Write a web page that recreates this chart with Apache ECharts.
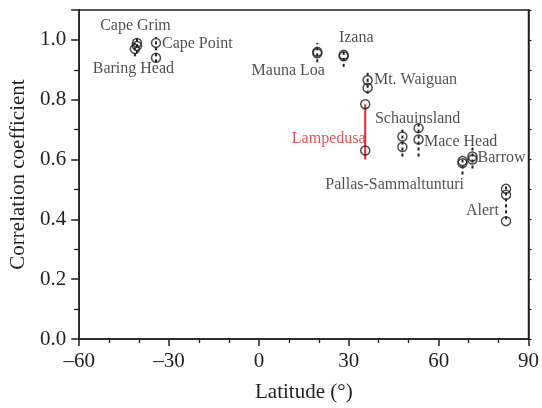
<!DOCTYPE html>
<html>
<head>
<meta charset="utf-8">
<script src="https://cdn.jsdelivr.net/npm/echarts@6/dist/echarts.min.js"></script>
<style>html,body{margin:0;padding:0;background:#fff}#c{width:542px;height:408px}</style>
</head>
<body>
<div id="c"></div>
<script>
// ---- data ----
const stations = ["Cape Grim","Baring Head","Cape Point","Mauna Loa","Izana","Mt. Waiguan","Lampedusa","Schauinsland","Mace Head","Pallas-Sammaltunturi","Barrow","Alert"];
const latitudes = [-40.7,-41.4,-34.35,19.5,28.3,36.3,35.5,47.9,53.3,67.97,71.3,82.5];
const correlations = [
  [0.99,0.98],
  [0.97],
  [0.99,0.94],
  [0.96,0.955],
  [0.95,0.945],
  [0.865,0.84],
  [0.785,0.63],
  [0.677,0.642],
  [0.705,0.667],
  [0.595,0.588],
  [0.61,0.60],
  [0.502,0.482,0.394]
];
const rangeLow  = [0.955,0.945,0.925,0.925,0.91,0.82,0.60,0.61,0.61,0.55,0.57,0.40];
const rangeHigh = [1.005,0.99,1.01,0.99,0.97,0.89,0.785,0.70,0.72,0.60,0.64,0.51];
const xTickLabels = ["–60","–30","0","30","60","90"];
const yTickLabels = ["0.0","0.2","0.4","0.6","0.8","1.0"];
// label anchors (annotation placement, in data units) and alignment
const labelAnchorX = [-41.2,-41.9,-32.35,9.8,32.5,38.4,23.3,38.75,55.1,45.3,73.0,80.1];
const labelAnchorY = [1.046,0.904,0.987,0.898,1.006,0.865,0.669,0.735,0.659,0.515,0.607,0.427];
const labelAlign = ["center","center","left","center","center","left","center","left","left","center","left","right"];
const highlight = "Lampedusa";

// ---- build ----
const RED = "#e5252a", INK = "#231f20", FONT = "Liberation Serif";
const pts = [];
stations.forEach((s,i)=>correlations[i].forEach(v=>pts.push([latitudes[i],v])));
const bars = stations.map((s,i)=>({value:[latitudes[i],rangeLow[i],rangeHigh[i]], red: s===highlight}));
const labels = stations.map((s,i)=>({
  name:s, value:[labelAnchorX[i],labelAnchorY[i]],
  label:{align:labelAlign[i], color: s===highlight?RED:INK}
}));
const fmtX = v => { const i=[-60,-30,0,30,60,90].indexOf(Math.round(v)); return i>=0?xTickLabels[i]:""; };
const fmtY = v => { const i=Math.round(v*10); return (i%2===0 && i/2<yTickLabels.length && Math.abs(v*10-i)<1e-6)?yTickLabels[i/2]:""; };

const chart = echarts.init(document.getElementById('c'), null, {renderer:'canvas'});
chart.setOption({
  animation:false,
  backgroundColor:'#fff',
  grid:{left:76,right:10.5,top:10,bottom:65.5,show:true,borderColor:INK,borderWidth:1.5,backgroundColor:'transparent'},
  xAxis:{type:'value',min:-60,max:90,interval:30,
    name:'Latitude (°)',nameLocation:'middle',nameGap:43,
    nameTextStyle:{fontFamily:FONT,fontSize:21,color:INK},
    axisLine:{onZero:false,lineStyle:{color:INK,width:1.5}},
    axisTick:{show:true,length:7,inside:false,lineStyle:{color:INK,width:1.5}},
    minorTick:{show:true,splitNumber:3,length:4,lineStyle:{color:INK,width:1.3}},
    splitLine:{show:false},
    axisLabel:{formatter:fmtX,fontFamily:FONT,fontSize:21,color:INK,margin:12}
  },
  yAxis:[{type:'value',min:0,max:1.1,interval:0.2,
    name:'Correlation coefficient',nameLocation:'middle',nameGap:48,
    nameTextStyle:{fontFamily:FONT,fontSize:21,color:INK},
    axisLine:{onZero:false,lineStyle:{color:INK,width:1.5}},
    axisTick:{show:true,length:8,lineStyle:{color:INK,width:1.5}},
    minorTick:{show:true,splitNumber:2,length:5,lineStyle:{color:INK,width:1.3}},
    splitLine:{show:false},
    axisLabel:{formatter:fmtY,fontFamily:FONT,fontSize:21,color:INK,margin:13,showMaxLabel:false}
  },{type:'value',min:0,max:1.1,interval:0.1,position:'right',
    axisLine:{show:true,onZero:false,lineStyle:{color:INK,width:1.5}},
    axisTick:{show:true,length:3,lineStyle:{color:INK,width:1.2}},
    splitLine:{show:false},axisLabel:{show:false}
  }],
  series:[
    {type:'custom',data:bars,z:2,
      renderItem:(params,api)=>{
        const p1=api.coord([api.value(0),api.value(1)]);
        const p2=api.coord([api.value(0),api.value(2)]);
        const red=bars[params.dataIndex].red;
        return {type:'line',shape:{x1:p1[0],y1:p1[1],x2:p2[0],y2:p2[1]},
          style:{stroke:red?RED:INK,lineWidth:2,lineDash:red?null:[3,3]}};
      }},
    {type:'scatter',data:pts,z:3,symbol:'circle',symbolSize:9,
      itemStyle:{color:'rgba(0,0,0,0)',borderColor:INK,borderWidth:1.5}},
    {type:'scatter',data:labels,z:4,symbolSize:0,silent:true,
      label:{show:true,position:'inside',formatter:'{b}',verticalAlign:'middle',fontFamily:FONT,fontSize:16,color:INK}}
  ]
});
</script>
</body>
</html>
